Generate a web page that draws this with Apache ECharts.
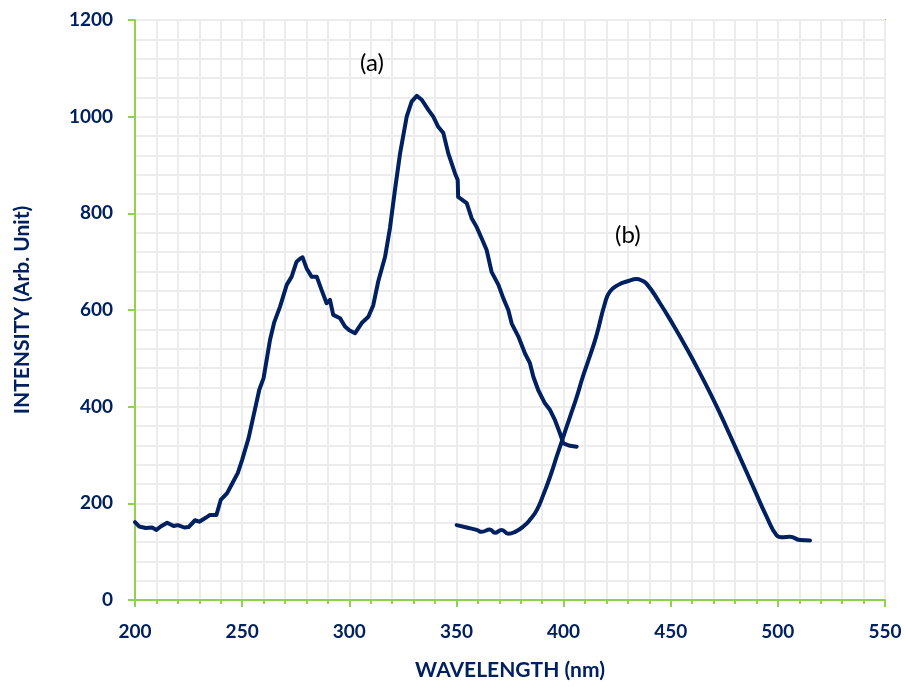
<!DOCTYPE html>
<html>
<head>
<meta charset="utf-8">
<script src="https://cdn.jsdelivr.net/npm/echarts@6/dist/echarts.min.js"></script>
<style>
html,body{margin:0;padding:0;background:#fff;}
#chart{width:905px;height:687px;}
</style>
</head>
<body>
<div id="chart"></div>
<script>
// Curve (a) – excitation spectrum
var waveA = [200,202,205,208,210,212,215,218,220,223,225,228,230,233,235,238,240,243,245,248,250,253,256,258,260,263,265,267.7,270.8,273.1,275.4,277,278.2,280.1,282.4,284.8,287.1,289.4,291,292.5,295.7,298,300,302.7,305.8,308.9,311.2,313.5,316.7,319,321.3,323.7,326.8,329.1,331.5,333.8,336.9,339.2,341.5,343.9,346.2,349.3,350.6,350.8,354.8,357.1,359.4,361.8,364.1,366.4,369.6,371.9,374.2,375.8,378.9,382,384.3,385.9,388.2,391.3,393.7,396,398.3,399.9,403,406.1];
var intensA = [161,152,149,150,145,152,160,153,155,150,151,165,162,170,176,176,207,221,238,263,290,335,395,435,459,538,575,607,652,669,700,706,709,686,669,669,641,614,621,590,583,566,558,552,573,586,610,659,710,770,848,924,1000,1031,1043,1035,1014,1000,979,966,924,883,869,834,821,790,772,748,724,679,652,624,600,572,545,510,490,462,434,407,393,372,345,324,319,317];
// Curve (b) – emission spectrum
var waveB = [350.1,354.8,359.4,361.8,365.6,368,371.1,374.2,377.4,381.2,384.3,387.5,390.5,393.7,396.8,399.9,403,406,409,412.3,415.4,419.3,421.6,425.5,430.2,434.1,436,438.8,445,451.2,457.4,463.7,471.5,480.8,488.5,494.8,499.4,501.8,505.6,510.3,515];
var intensB = [155,150,145,141,146,139,145,137,141,152,166,186,217,255,297,338,379,418,462,505,548,614,638,652,660,664,662,654,614,569,521,469,400,310,234,172,134,130,131,124,123];
// Annotation labels
var labelText = ['(a)','(b)'];
var labelWave = [310.6,430];
var labelInt = [1111,755];
var xTicks = [200,250,300,350,400,450,500,550];
var yTicks = [0,200,400,600,800,1000,1200];

function pairs(x,y){var o=[];for(var i=0;i<x.length;i++)o.push([x[i],y[i]]);return o;}
var navy='#002060', green='#92d050', gridC='#ececec';
var chart = echarts.init(document.getElementById('chart'));
chart.setOption({
  animation:false,
  backgroundColor:'#fff',
  grid:{left:135,right:20,top:20,bottom:87,show:true,borderColor:green,borderWidth:2,backgroundColor:'transparent'},
  xAxis:{type:'value',min:xTicks[0],max:xTicks[xTicks.length-1],interval:50,
    name:'WAVELENGTH (nm)',nameLocation:'middle',nameGap:60,
    nameTextStyle:{color:navy,fontFamily:'Lato',fontWeight:'bold',fontSize:21},
    axisLine:{lineStyle:{color:green,width:2}},
    axisTick:{show:true,length:7,lineStyle:{color:green,width:2}},
    minorTick:{show:true,splitNumber:5,length:4,lineStyle:{color:green,width:2}},
    axisLabel:{color:navy,fontFamily:'Lato',fontWeight:'bold',fontSize:19,margin:22,formatter:function(v){return String(v);}},
    splitLine:{show:true,lineStyle:{color:gridC,width:2}},
    minorSplitLine:{show:true,lineStyle:{color:gridC,width:2}}},
  yAxis:{type:'value',min:yTicks[0],max:yTicks[yTicks.length-1],interval:200,
    name:'INTENSITY (Arb. Unit)',nameLocation:'middle',nameGap:102,
    nameTextStyle:{color:navy,fontFamily:'Lato',fontWeight:'bold',fontSize:21},
    axisLine:{show:true,lineStyle:{color:green,width:2}},
    axisTick:{show:true,length:7,lineStyle:{color:green,width:2}},
    minorTick:{show:false,splitNumber:5},
    axisLabel:{color:navy,fontFamily:'Lato',fontWeight:'bold',fontSize:19,margin:22,formatter:function(v){return String(v);}},
    splitLine:{show:true,lineStyle:{color:gridC,width:2}},
    minorSplitLine:{show:true,lineStyle:{color:gridC,width:2}}},
  series:[
    {type:'line',data:pairs(waveA,intensA),showSymbol:false,symbol:'none',smooth:false,
     lineStyle:{color:navy,width:4,join:'round',cap:'round'},
     markPoint:{symbol:'circle',symbolSize:0,data:[{coord:[labelWave[0],labelInt[0]],value:labelText[0]}],
       label:{show:true,position:'inside',formatter:'{c}',color:'#000',fontFamily:'Lato',fontSize:24}}},
    {type:'line',data:pairs(waveB,intensB),showSymbol:false,symbol:'none',smooth:true,
     lineStyle:{color:navy,width:4,join:'round',cap:'round'},
     markPoint:{symbol:'circle',symbolSize:0,data:[{coord:[labelWave[1],labelInt[1]],value:labelText[1]}],
       label:{show:true,position:'inside',formatter:'{c}',color:'#000',fontFamily:'Lato',fontSize:24}}}
  ]
});
</script>
</body>
</html>
